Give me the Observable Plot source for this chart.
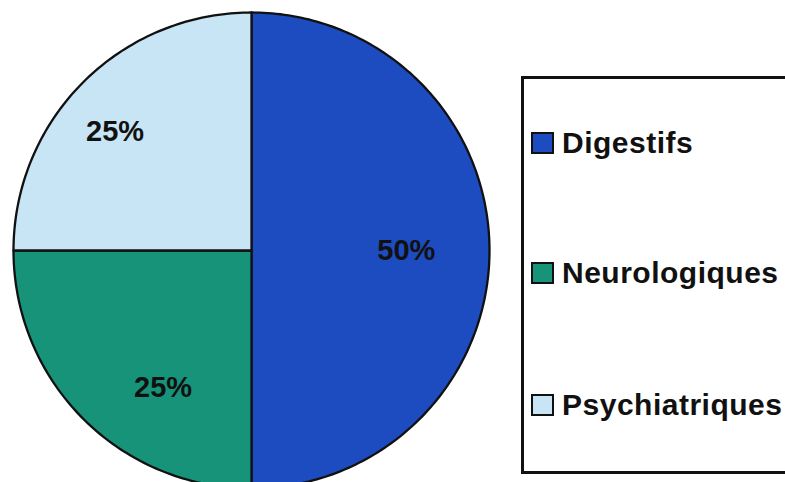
<!DOCTYPE html>
<html><head><meta charset="utf-8">
<script src="https://cdn.jsdelivr.net/npm/d3@7"></script>
<script src="https://cdn.jsdelivr.net/npm/@observablehq/plot@0.6"></script>
<style>
body{margin:0;background:#fff;overflow:hidden;font-family:"Liberation Sans",Arial,sans-serif;}
#wrap{position:relative;width:785px;height:482px;overflow:hidden;background:#fff}
#legend{position:absolute;left:521px;top:76px;width:320px;height:398px;border:3px solid #111;box-sizing:border-box;background:#fff}
.item{position:absolute;left:7px;display:flex;align-items:center;font-weight:bold;font-size:30px;letter-spacing:0.5px;color:#111;white-space:nowrap;transform:translateY(-50%)}
.sw{width:19px;height:18px;border:2px solid #111;margin-right:8px;flex:none}
</style></head><body>
<div id="wrap"><div id="chart"></div><div id="legend"></div></div>
<script>
// Data
const categories = ["Digestifs", "Neurologiques", "Psychiatriques"];
const values = [50, 25, 25];
const labels = ["50%", "25%", "25%"];
const colors = ["#1c4cc0", "#17937a", "#c7e5f5"];

// Layout
const W = 785, H = 482, R = 238, cx = 251, cy = 250;
const labelOffsets = {Digestifs: [-7, 0], Neurologiques: [26, 23], Psychiatriques: [-22, -4]}; // px
const legendCenters = [64, 194, 326]; // px inside legend box

const data = categories.map((c, i) => ({cat: c, value: values[i], label: labels[i]}));
const arcs = d3.pie().sort(null).value(d => d.value)(data);

const pts = [];
arcs.forEach(s => {
  const cat = s.data.cat;
  pts.push({cat, x: 0, y: 0});
  const n = Math.max(2, Math.ceil((s.endAngle - s.startAngle) / (Math.PI / 180)));
  for (let k = 0; k <= n; k++) {
    const a = s.startAngle + (s.endAngle - s.startAngle) * k / n;
    pts.push({cat, x: Math.sin(a), y: Math.cos(a)});
  }
  pts.push({cat, x: 0, y: 0});
});

const labelData = arcs.map(s => {
  const a = (s.startAngle + s.endAngle) / 2;
  const r = 0.68;
  const off = labelOffsets[s.data.cat];
  return {
    text: s.data.label,
    x: Math.sin(a) * r + off[0] / R,
    y: Math.cos(a) * r - off[1] / R
  };
});

const chart = Plot.plot({
  width: W,
  height: H,
  margin: 0,
  x: {domain: [-cx / R, (W - cx) / R], axis: null},
  y: {domain: [-(H - cy) / R, cy / R], axis: null},
  color: {domain: categories, range: colors},
  style: {background: "transparent"},
  marks: [
    Plot.line(pts, {x: "x", y: "y", z: "cat", fill: "cat", stroke: "#111", strokeWidth: 2.3, strokeLinejoin: "round"}),
    Plot.text(labelData, {x: "x", y: "y", text: "text", fontSize: 29, fontWeight: "bold", fill: "#111", fontFamily: "Liberation Sans, Arial, sans-serif"})
  ]
});
document.getElementById("chart").appendChild(chart);

const legend = document.getElementById("legend");
categories.forEach((c, i) => {
  const it = document.createElement("div");
  it.className = "item";
  it.style.top = legendCenters[i] + "px";
  const sw = document.createElement("span");
  sw.className = "sw";
  sw.style.background = colors[i];
  const t = document.createElement("span");
  t.textContent = c;
  it.appendChild(sw);
  it.appendChild(t);
  legend.appendChild(it);
});
</script>
</body></html>
